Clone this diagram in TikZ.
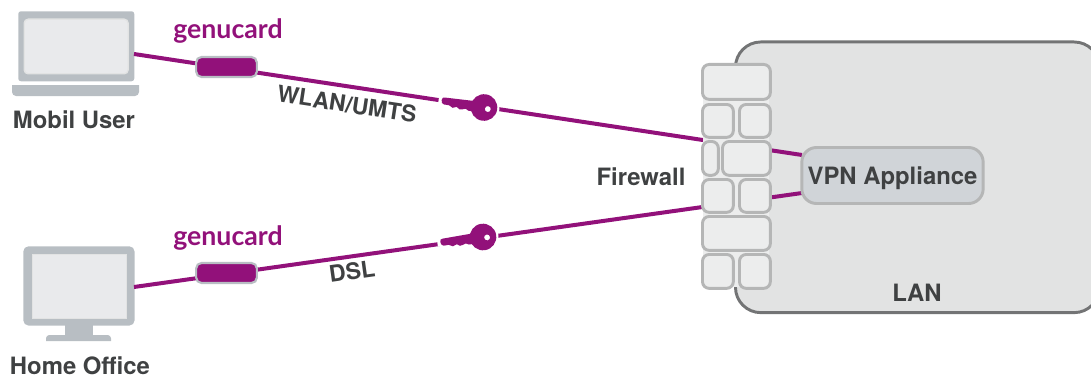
\documentclass[tikz,border=0pt]{standalone}
\usepackage{fontspec}
\setmainfont{TeX Gyre Heros}
\newfontfamily\cardfont{Lato}
\definecolor{wirepurple}{HTML}{92117A}
\definecolor{textgrey}{HTML}{3F4142}
\definecolor{devgrey}{HTML}{B8BEC3}
\definecolor{screengrey}{HTML}{E9EAEC}
\definecolor{brickline}{HTML}{B5B6B6}
\definecolor{brickfill}{HTML}{ECEDED}
\definecolor{lanfill}{HTML}{E2E3E3}
\definecolor{lanline}{HTML}{737475}
\definecolor{vpnfill}{HTML}{D0D4D8}
\tikzset{
  lbl/.style={font=\bfseries\fontsize{17.9}{20}\selectfont, text=textgrey, inner sep=0pt},
  wirelbl/.style={font=\bfseries\fontsize{17.2}{20}\selectfont, text=textgrey, inner sep=0pt},
  cardlbl/.style={font=\cardfont\bfseries\fontsize{20}{22}\selectfont, text=wirepurple, inner sep=0pt},
  wire/.style={wirepurple, line width=3pt},
  cardbox/.style={draw=devgrey, fill=wirepurple, line width=1.6pt, rounded corners=4pt, minimum width=45.5pt, minimum height=15pt, inner sep=0pt},
  keyicon/.pic={
    \fill[white] (0,0) circle (15.5);
    \fill[white] (-46,-3) rectangle (0,3);
    \fill[wirepurple, even odd rule] (0,0) circle (13.3) (4,1) circle (3);
    \fill[wirepurple] (-43,-1) .. controls (-43,-3.5) and (-42,-4) .. (-40,-4) -- (-10,-5) -- (-10,5.5) -- (-15,5.5) -- (-18,4) -- (-21,5) -- (-24,5.5) -- (-27,3.5) -- (-31,5) -- (-35,3) -- (-40,3) .. controls (-42,3) and (-43,1) .. (-43,-1) -- cycle;
  }
}
\newcommand{\brick}[5]{\node (#5) [draw=brickline, fill=brickfill, line width=2.2pt, rounded corners=5pt, inner sep=0pt, minimum width=#3*0.75pt-1.6pt, minimum height=#4*0.75pt-1.6pt, anchor=north west] at (#1,#2) {};}
\begin{document}
\begin{tikzpicture}[x=0.75pt,y=-0.75pt]
\clip (0,0) rectangle (1091,378);

% LAN
\node (lan) [draw=lanline, fill=lanfill, line width=2.2pt, rounded corners=19pt, minimum width=273pt, minimum height=203pt, inner sep=0pt, anchor=north west] at (734,40.5) {};
\node (lanlbl) [lbl] at (917,293) {LAN};

% Laptop
\node (laptop) [fill=devgrey, rounded corners=2pt, minimum width=87pt, minimum height=52.5pt, inner sep=0pt, anchor=north west] at (18,11) {};
\node (laptopscr) [draw=lanfill, fill=screengrey, line width=1pt, rounded corners=3pt, minimum width=78pt, minimum height=41pt, inner sep=0pt, anchor=north west] at (23.5,18.5) {};
\fill[devgrey] (12,85) -- (139,85) [rounded corners=3pt] -- (139,96) -- (12,96) [sharp corners] -- cycle;
\node (mobil) [lbl] at (74,120) {Mobil User};

% Monitor
\fill[devgrey] (65,320) rectangle (93,336);
\fill[devgrey] (46,341) [rounded corners=2.5pt] -- (46,335) -- (111,335) [sharp corners] -- (111,341) -- cycle;
\node (monitor) [fill=devgrey, rounded corners=4pt, minimum width=83.5pt, minimum height=59.5pt, inner sep=0pt, anchor=north west] at (23,246) {};
\node (monitorscr) [draw=lanfill, fill=screengrey, line width=.8pt, minimum width=71pt, minimum height=48.5pt, inner sep=0pt, anchor=north west] at (31.5,253.5) {};
\node (home) [lbl] at (80,366) {Home Office};

% wires
\coordinate (userend) at (134,54);
\coordinate (homeend) at (134,287);
\coordinate (vpnup) at (802,155);
\coordinate (vpndown) at (802,193);
\draw[wire] (userend) -- (vpnup);
\draw[wire] (homeend) -- (vpndown);

% Firewall
\fill[brickfill] (703,65) rectangle (769,287);
\brick{701}{63}{70}{37}{b1}
\brick{701}{103}{33}{35}{b2}
\brick{738}{103}{33}{35}{b3}
\brick{701}{140}{18}{36}{b4}
\brick{721}{140}{50}{36}{b5}
\brick{701}{178}{33}{35}{b6}
\brick{738}{178}{33}{35}{b7}
\brick{701}{215}{70}{36}{b8}
\brick{701}{253}{33}{36}{b9}
\brick{738}{253}{33}{36}{b10}
\node (fwlbl) [lbl] at (641,177) {Firewall};

% VPN
\node (vpn) [draw=brickline, fill=vpnfill, line width=2.2pt, rounded corners=11pt, minimum width=136pt, minimum height=42pt, inner sep=0pt, lbl, text depth=0pt] at (892.5,175.5) {VPN Appliance};

% cards
\node (card1) [cardbox] at (226.5,67) {};
\node (card2) [cardbox] at (226.5,273) {};
\node (cardlbl1) [cardlbl] at (228,31) {genucard};
\node (cardlbl2) [cardlbl] at (228,238) {genucard};

% keys
\pic[rotate=-8.6] at (484,107.5) {keyicon};
\pic[rotate=8] at (483,237) {keyicon};

% wire labels
\node (wlan) [wirelbl, rotate=-8.6] at (347,104) {WLAN/UMTS};
\node (dsl) [wirelbl, rotate=8] at (352,271) {DSL};
\end{tikzpicture}
\end{document}
